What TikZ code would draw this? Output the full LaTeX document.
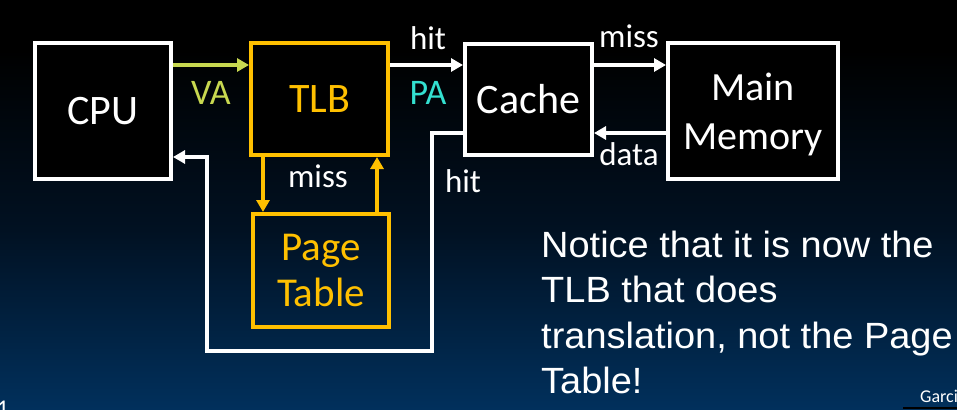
\documentclass[tikz,border=0pt]{standalone}
\usepackage{fontspec}
\setmainfont{Carlito}
\newfontfamily\arialf[FakeStretch=1.04]{Liberation Sans}
\usetikzlibrary{arrows.meta}
\definecolor{orng}{RGB}{255,192,0}
\definecolor{vacol}{RGB}{200,216,80}
\definecolor{pacol}{RGB}{51,224,208}
\definecolor{bgblue}{RGB}{1,48,92}
\definecolor{bgmid}{RGB}{1,17,34}
\begin{document}
\begin{tikzpicture}[x=1pt,y=-1pt,
  box/.style={draw=white, line width=4pt, fill=black, inner sep=0pt, text=white, align=center, font=\fontsize{42}{50}\selectfont},
  obox/.style={box, draw=orng, text=orng},
  lbl/.style={text=white, inner sep=0pt, font=\fontsize{33}{40}\selectfont, anchor=base},
  wire/.style={draw=white, line width=4pt},
  arr/.style={wire, -{Triangle[length=12pt,width=13pt]}},
  note/.style={anchor=base west, inner sep=0pt, text=white, font=\arialf\fontsize{36.5}{44}\selectfont}
]
\clip (0,0) rectangle (957,409);
\useasboundingbox (0,0) rectangle (957,409);
\fill[black] (0,0) rectangle (957,409);
\shade[top color=black, bottom color=bgblue, middle color=bgmid] (0,50) rectangle (957,409);

\node[box, minimum width=136pt, minimum height=136pt] (cpu) at (103,111) {CPU};
\node[obox, minimum width=137pt, minimum height=112pt] (tlb) at (319.5,99) {TLB};
\node[box, minimum width=127pt, minimum height=111pt] (cache) at (528.5,99.5) {Cache};
\node[box, minimum width=170pt, minimum height=136pt, font=\fontsize{40}{49}\selectfont, text depth=0pt] (mem) at (753,111) {Main\\Memory};
\node[obox, fill=none, minimum width=135.5pt, minimum height=113pt, font=\fontsize{41}{46}\selectfont, text depth=0pt] (pt) at (321,270.5) {Page\\Table};

\coordinate (r1) at (0,65);
\coordinate (r2) at (0,133);
\coordinate (r3) at (0,157);
\coordinate (c1) at (432,351);
\coordinate (c2) at (207,351);
\coordinate (xd) at (263,0);
\coordinate (xu) at (377,0);

\draw[arr, draw=vacol] (cpu.east |- r1) -- (tlb.west |- r1);
\draw[arr] (tlb.east |- r1) -- (cache.west |- r1);
\draw[arr] (cache.east |- r1) -- (mem.west |- r1);
\draw[arr] (mem.west |- r2) -- (cache.east |- r2);
\draw[arr, line width=3.5pt] (cache.west |- r2) -| (c1) -- (c2) |- (cpu.east |- r3);
\draw[arr, draw=orng] (tlb.south -| xd) -- (pt.north -| xd);
\draw[arr, draw=orng] (pt.north -| xu) -- (tlb.south -| xu);

\node[lbl, text=vacol, font=\fontsize{36}{40}\selectfont] (va) at (211,105) {VA};
\node[lbl, text=pacol, font=\fontsize{36}{40}\selectfont] (pa) at (428,105) {PA};
\node[lbl] (hit1) at (428,50) {hit};
\node[lbl] (miss1) at (629,48) {miss};
\node[lbl] (data) at (629,165) {data};
\node[lbl] (hit2) at (463,192) {hit};
\node[lbl] (miss2) at (318,187) {miss};

\node[note] (n1) at (541,257) {Notice that it is now the};
\node[note] (n2) at (541,302) {TLB that does};
\node[note] (n3) at (541,348) {translation, not the Page};
\node[note] (n4) at (541,393) {Table!};

\node[anchor=base east, inner sep=0pt, text=white, font=\fontsize{24}{28}\selectfont] (pg) at (9,416) {1};
\node[anchor=base west, inner sep=0pt, text=white, font=\fontsize{18}{20}\selectfont] (gar) at (920,402) {Garci};
\fill[black] (903,407) rectangle (957,409);
\end{tikzpicture}
\end{document}
